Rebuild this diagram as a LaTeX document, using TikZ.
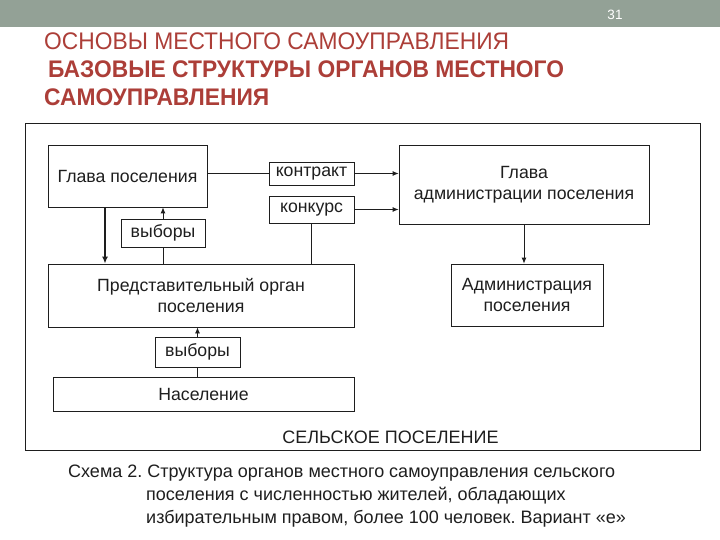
\documentclass[tikz,border=0pt]{standalone}
\usepackage{fontspec}
\setmainfont{Liberation Sans}
\newfontfamily\titlefont[FakeStretch=0.95]{Liberation Sans}
\usetikzlibrary{arrows.meta,calc}
\definecolor{barcol}{RGB}{147,161,150}
\definecolor{titlered}{RGB}{172,62,56}
\definecolor{inkc}{RGB}{30,30,30}
\newcommand\dgf{\fontsize{17.7}{21}\selectfont}
\newcommand\capf{\fontsize{18}{21}\selectfont}
\frenchspacing
\tikzset{
  box/.style={draw=inkc, line width=0.8pt, inner sep=0pt, align=center, font=\dgf, text=inkc},
  conn/.style={draw=inkc, line width=0.8pt},
  arr/.style={conn, -{Latex[length=6pt,width=5pt]}},
  thickarr/.style={draw=inkc, line width=1.8pt, -{Latex[length=7pt,width=6pt]}},
  titlelbl/.style={anchor=base west, inner sep=0pt, text=titlered},
  caplbl/.style={anchor=base west, inner sep=0pt, text=inkc, font=\capf}
}
\begin{document}
\begin{tikzpicture}[x=1pt,y=-1pt]
\useasboundingbox (0,0) rectangle (720,540);
\fill[barcol] (0,0) rectangle (720,27);
\node[text=white, font=\fontsize{13.5}{16}\selectfont, inner sep=0pt] (pagenum) at (615,15) {31};

\node[titlelbl, font=\titlefont\fontsize{24}{28}\selectfont] (t1) at (44,50) {ОСНОВЫ МЕСТНОГО САМОУПРАВЛЕНИЯ};
\node[titlelbl, font=\titlefont\bfseries\fontsize{24}{28}\selectfont] (t2) at (48,78) {БАЗОВЫЕ СТРУКТУРЫ ОРГАНОВ МЕСТНОГО};
\node[titlelbl, font=\titlefont\bfseries\fontsize{24}{28}\selectfont] (t3) at (44,106) {САМОУПРАВЛЕНИЯ};

\node[draw=inkc, line width=0.8pt, minimum width=675pt, minimum height=327pt, inner sep=0pt] (frame) at (362.5,286.5) {};

\node[box, minimum width=159pt, minimum height=62pt] (gp) at (127.5,176) {Глава поселения};
\node[box, minimum width=85pt, minimum height=23pt] (kontr) at (311.5,173.5) {контракт};
\node[box, minimum width=85pt, minimum height=27pt] (konk) at (311.5,209.5) {конкурс};
\node[box, minimum width=84pt, minimum height=28pt] (vyb1) at (163,233) {выборы};
\node[box, minimum width=306pt, minimum height=63pt] (pred) at (201,295.5) {Представительный орган\\поселения};
\node[box, minimum width=250pt, minimum height=79pt] (gla) at (524,184.5) {Глава\\администрации поселения};
\node[box, minimum width=152pt, minimum height=62pt] (adm) at (527,295) {Администрация\\поселения};
\node[box, minimum width=85pt, minimum height=30pt] (vyb2) at (197.5,352) {выборы};
\node[box, minimum width=301pt, minimum height=34pt] (nas) at (203.5,394) {Население};

\node[font=\capf, text=inkc, inner sep=0pt] (rural) at (390.5,437) {СЕЛЬСКОЕ ПОСЕЛЕНИЕ};

\draw[conn] (gp.east |- kontr.west) -- (kontr.west);
\draw[arr] (kontr.east) -- (gla.west |- kontr.east);
\draw[arr] (konk.east) -- (gla.west |- konk.east);
\draw[thickarr] ([xshift=-22.5pt]gp.south) -- ([xshift=-22.5pt]gp.south |- pred.north);
\draw[conn] (vyb1.south |- pred.north) -- (vyb1.south);
\draw[arr] (vyb1.north) -- (vyb1.north |- gp.south);
\draw[conn] (konk.south) -- (konk.south |- pred.north);
\draw[arr] (gla.south) -- (gla.south |- adm.north);
\draw[conn] (vyb2.south |- nas.north) -- (vyb2.south);
\draw[arr] (vyb2.north) -- (vyb2.north |- pred.south);

\node[caplbl] (cap1) at (68,477) {Схема 2. Структура органов местного самоуправления сельского};
\node[caplbl] (cap2) at (146,500) {поселения с численностью жителей, обладающих};
\node[caplbl] (cap3) at (146,523) {избирательным правом, более 100 человек. Вариант «е»};
\end{tikzpicture}
\end{document}
